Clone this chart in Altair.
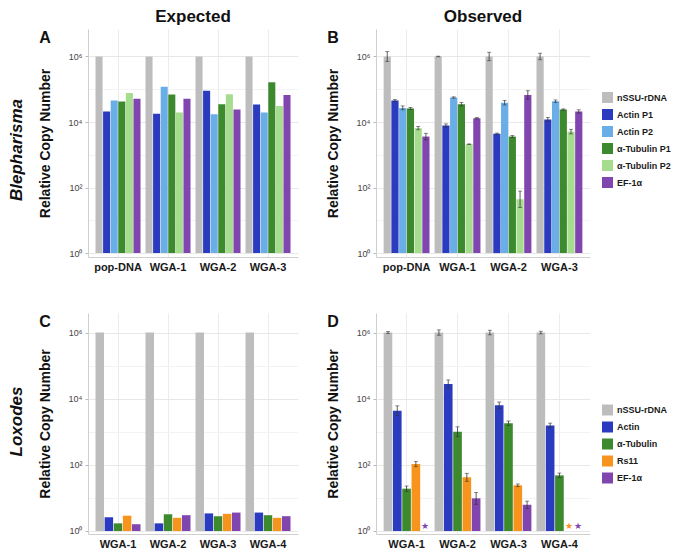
import altair as alt
import pandas as pd

FONT = "Liberation Sans"

# ---------------- Blepharisma ----------------
BLE_SAMPLES = ["pop-DNA", "WGA-1", "WGA-2", "WGA-3"]
BLE_GENES = ["nSSU-rDNA", "Actin P1", "Actin P2", "α-Tubulin P1", "α-Tubulin P2", "EF-1α"]
BLE_COLORS = ["#BDBDBD", "#2B3BBF", "#6AAEE8", "#3D8A2E", "#A6DC8E", "#8145B0"]

# Expected (panel A), values per sample
A_nSSU = [1e6, 1e6, 1e6, 1e6]
A_ActinP1 = [2.1e4, 1.8e4, 9.0e4, 3.4e4]
A_ActinP2 = [4.5e4, 1.19e5, 1.73e4, 1.95e4]
A_TubP1 = [4.2e4, 6.9e4, 3.5e4, 1.64e5]
A_TubP2 = [7.7e4, 1.95e4, 7.0e4, 3.1e4]
A_EF = [5.1e4, 5.1e4, 2.4e4, 6.7e4]

# Observed (panel B)
B_nSSU = [1e6, 1e6, 1e6, 1e6]
B_ActinP1 = [4.5e4, 7.8e3, 4.4e3, 1.2e4]
B_ActinP2 = [2.7e4, 5.6e4, 3.9e4, 4.3e4]
B_TubP1 = [2.6e4, 3.5e4, 3.6e3, 2.4e4]
B_TubP2 = [6.5e3, 2.1e3, 44, 5.1e3]
B_EF = [3.6e3, 1.3e4, 6.7e4, 2.1e4]
# error half-widths (log10 units)
B_err_nSSU = [0.15, 0.01, 0.13, 0.10]
B_err_ActinP1 = [0.03, 0.05, 0.02, 0.06]
B_err_ActinP2 = [0.06, 0.02, 0.07, 0.04]
B_err_TubP1 = [0.03, 0.05, 0.03, 0.02]
B_err_TubP2 = [0.05, 0.01, 0.25, 0.07]
B_err_EF = [0.10, 0.02, 0.13, 0.05]

# ---------------- Loxodes ----------------
LOX_SAMPLES = ["WGA-1", "WGA-2", "WGA-3", "WGA-4"]
LOX_GENES = ["nSSU-rDNA", "Actin", "α-Tubulin", "Rs11", "EF-1α"]
LOX_COLORS = ["#BDBDBD", "#2B3BBF", "#3D8A2E", "#F7941D", "#8145B0"]

C_nSSU = [1e6, 1e6, 1e6, 1e6]
C_Actin = [2.6, 1.7, 3.4, 3.6]
C_Tub = [1.7, 3.2, 2.8, 3.0]
C_Rs11 = [2.9, 2.5, 3.3, 2.5]
C_EF = [1.6, 3.0, 3.6, 2.8]

D_nSSU = [1e6, 1e6, 1e6, 1e6]
D_Actin = [4.3e3, 2.8e4, 6.3e3, 1.55e3]
D_Tub = [19, 1.0e3, 1.8e3, 48]
D_Rs11 = [106, 42, 24, None]
D_EF = [None, 9.7, 6.2, None]
D_err_nSSU = [0.03, 0.08, 0.07, 0.04]
D_err_Actin = [0.15, 0.12, 0.10, 0.07]
D_err_Tub = [0.08, 0.15, 0.07, 0.07]
D_err_Rs11 = [0.08, 0.12, 0.04, None]
D_err_EF = [None, 0.18, 0.11, None]

STAR_LEVEL = 1.4


def long_df(samples, genes, series, errs=None):
    rows = []
    for gi, g in enumerate(genes):
        for si, s in enumerate(samples):
            v = series[gi][si]
            r = {"sample": s, "gene": g, "value": v, "missing": v is None}
            if errs is not None and v is not None:
                e = errs[gi][si]
                r["lo"] = v / (10 ** e)
                r["hi"] = v * (10 ** e)
            rows.append(r)
    return pd.DataFrame(rows)


dfA = long_df(BLE_SAMPLES, BLE_GENES, [A_nSSU, A_ActinP1, A_ActinP2, A_TubP1, A_TubP2, A_EF])
dfB = long_df(BLE_SAMPLES, BLE_GENES, [B_nSSU, B_ActinP1, B_ActinP2, B_TubP1, B_TubP2, B_EF],
              [B_err_nSSU, B_err_ActinP1, B_err_ActinP2, B_err_TubP1, B_err_TubP2, B_err_EF])
dfC = long_df(LOX_SAMPLES, LOX_GENES, [C_nSSU, C_Actin, C_Tub, C_Rs11, C_EF])
dfD = long_df(LOX_SAMPLES, LOX_GENES, [D_nSSU, D_Actin, D_Tub, D_Rs11, D_EF],
              [D_err_nSSU, D_err_Actin, D_err_Tub, D_err_Rs11, D_err_EF])

MAJOR = "datum.value == 1 || datum.value == 100 || datum.value == 10000 || datum.value == 1000000"
LABEL_EXPR = ("datum.value == 1 ? '10⁰' : datum.value == 100 ? '10²' : "
              "datum.value == 10000 ? '10⁴' : datum.value == 1000000 ? '10⁶' : ''")


def panel(df, samples, genes, colors, domain, w, h, letter, title=None,
          rowlabel=None, rowlabel_y=None, legend=None, errors=False):
    xaxis = alt.Axis(title=None, labelFont=FONT, labelFontSize=11, labelFontWeight="bold",
                     labelColor="#1a1a1a", labelAngle=0, labelPadding=4, ticks=False,
                     domainColor="#cfcfcf", grid=True, gridColor="#ececec", bandPosition=0.5)
    yaxis = alt.Axis(title="Relative Copy Number", titleFont=FONT, titleFontSize=14,
                     titleFontWeight="bold", titleColor="#111", titlePadding=16,
                     values=[1, 10, 100, 1000, 10000, 100000, 1000000],
                     labelExpr=LABEL_EXPR, labelFont=FONT, labelFontSize=9, labelColor="#444",
                     labelPadding=3, tickSize=3, tickColor="#bbbbbb",
                     tickOpacity={"condition": {"test": MAJOR, "value": 1}, "value": 0},
                     domainColor="#cfcfcf", grid=True,
                     gridColor={"condition": {"test": MAJOR, "value": "#e8e8e8"}, "value": "#f3f3f3"})
    x = alt.X("sample:N", scale=alt.Scale(domain=samples, paddingInner=0.1, paddingOuter=0.15), axis=xaxis)
    xo = alt.XOffset("gene:N", scale=alt.Scale(domain=genes, paddingInner=0.07))
    ysc = alt.Scale(type="log", domain=domain, nice=False)
    color = alt.Color("gene:N", scale=alt.Scale(domain=genes, range=colors), legend=legend)

    present = df[~df["missing"]]
    layers = [
        alt.Chart(present).mark_bar().encode(
            x=x, xOffset=xo, y=alt.Y("value:Q", scale=ysc, axis=yaxis), y2=alt.datum(1), color=color)
    ]
    if errors:
        layers.append(alt.Chart(present).mark_rule(color="#333", strokeWidth=0.8).encode(
            x=x, xOffset=xo, y=alt.Y("lo:Q", scale=ysc, axis=yaxis), y2="hi:Q"))
        for f in ["lo", "hi"]:
            layers.append(alt.Chart(present).mark_tick(color="#333", thickness=0.8, size=4,
                                                       orient="horizontal").encode(
                x=x, xOffset=xo, y=alt.Y(f + ":Q", scale=ysc, axis=yaxis)))
        miss = df[df["missing"]]
        if len(miss):
            layers.append(alt.Chart(miss).mark_text(text="★", fontSize=9, baseline="middle").encode(
                x=x, xOffset=xo, y=alt.datum(STAR_LEVEL), color=color))
    layers.append(alt.Chart(pd.DataFrame({"t": [letter]})).mark_text(
        font=FONT, fontSize=16, fontWeight="bold", color="#111", baseline="middle", align="center").encode(
        text="t:N", x=alt.value(-43), y=alt.value(9)))
    if rowlabel:
        layers.append(alt.Chart(pd.DataFrame({"t": [rowlabel]})).mark_text(
            font=FONT, fontSize=17, fontWeight="bold", fontStyle="italic", color="#111",
            angle=270, baseline="middle", align="center").encode(
            text="t:N", x=alt.value(-71), y=alt.value(rowlabel_y)))
    ch = alt.layer(*layers).properties(width=w, height=h)
    if title:
        ch = ch.properties(title=alt.TitleParams(text=title, font=FONT, fontSize=17, fontWeight="bold",
                                                 color="#111", anchor="middle", offset=3))
    return ch


H1, H2 = 228, 221
W1, W2 = 210, 214


def leg(y):
    return alt.Legend(title=None, orient="none", legendX=W2 + 12, legendY=y, symbolType="square",
                      symbolSize=121, symbolStrokeWidth=0, labelFont=FONT, labelFontSize=9,
                      labelFontWeight="bold", labelColor="#1a1a1a", rowPadding=6, labelOffset=4)


pA = panel(dfA, BLE_SAMPLES, BLE_GENES, BLE_COLORS, [0.76, 6.9e6], W1, H1, "A", title="Expected",
           rowlabel="Blepharisma", rowlabel_y=H1 / 2 + 7)
pB = panel(dfB, BLE_SAMPLES, BLE_GENES, BLE_COLORS, [0.76, 6.9e6], W2, H1, "B", title="Observed",
           legend=leg(H1 / 2 - 51), errors=True)
pC = panel(dfC, LOX_SAMPLES, LOX_GENES, LOX_COLORS, [0.81, 3.9e6], W1, H2, "C",
           rowlabel="Loxodes", rowlabel_y=H2 / 2 - 2)
pD = panel(dfD, LOX_SAMPLES, LOX_GENES, LOX_COLORS, [0.81, 3.9e6], W2, H2, "D",
           legend=leg(H2 / 2 - 19), errors=True)

chart = alt.concat(pA, pB, pC, pD, columns=2, spacing={"row": 56, "column": 78}).properties(
    bounds="flush", padding=0
).resolve_scale(color="independent", xOffset="independent").configure_view(stroke=None)

chart.save("out.html", embed_options={"renderer": "svg", "actions": False})
